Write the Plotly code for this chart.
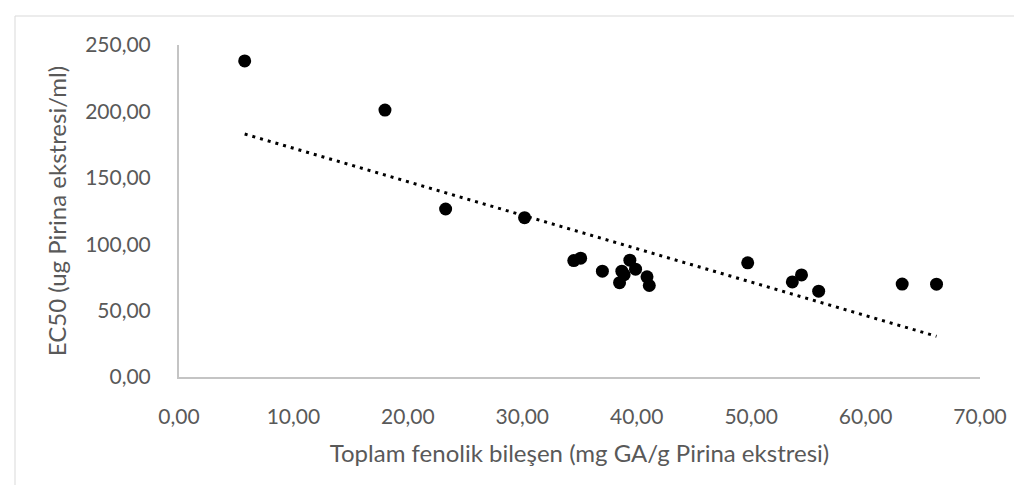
import numpy as np
import plotly.graph_objects as go

# Data
toplam_fenolik = [5.74, 18.0, 23.3, 30.2, 34.5, 35.1, 37.0, 38.7, 38.9, 38.5,
                  39.4, 39.9, 40.9, 41.1, 49.7, 53.6, 54.4, 55.9, 63.2, 66.2]
ec50 = [238.0, 201.0, 126.5, 120.0, 87.7, 89.5, 79.7, 79.7, 77.0, 71.0,
        88.0, 81.2, 75.4, 68.9, 86.0, 71.6, 76.9, 64.6, 70.0, 69.9]

x_title = "Toplam fenolik bileşen (mg GA/g Pirina ekstresi)"
y_title = "EC50 (ug Pirina ekstresi/ml)"

# Linear trendline (least squares), drawn over the data's x range
slope, intercept = np.polyfit(toplam_fenolik, ec50, 1)
tx = [min(toplam_fenolik), max(toplam_fenolik)]
ty = [slope * v + intercept for v in tx]

FONT = "Lato"
TICK_COLOR = "#595959"
AXIS_COLOR = "#c4c4c4"

fig = go.Figure()
fig.add_trace(go.Scatter(
    x=tx, y=ty, mode="lines",
    line=dict(color="black", width=3, dash="3px,5px"),
    showlegend=False, hoverinfo="skip"))
fig.add_trace(go.Scatter(
    x=toplam_fenolik, y=ec50, mode="markers",
    marker=dict(color="black", size=13),
    showlegend=False))

L, R, T, B = 171, 50, 37, 116
W, H = 1022, 485
pw = W - L - R
ph = H - T - B

fig.update_layout(
    width=W, height=H,
    margin=dict(l=L, r=R, t=T, b=B),
    paper_bgcolor="white", plot_bgcolor="white",
    separators=",.",
    font=dict(family=FONT, color=TICK_COLOR),
    xaxis=dict(
        range=[0, 70], dtick=10, tick0=0, tickformat=".2f",
        showgrid=False, zeroline=False,
        showline=True, linecolor=AXIS_COLOR, linewidth=2,
        ticks="", ticklabelstandoff=20,
        tickfont=dict(size=21, color=TICK_COLOR, family=FONT),
        title=dict(text=x_title, font=dict(size=24, color=TICK_COLOR, family=FONT), standoff=18),
    ),
    yaxis=dict(
        range=[0, 250], dtick=50, tick0=0, tickformat=".2f",
        showgrid=False, zeroline=False,
        showline=True, linecolor=AXIS_COLOR, linewidth=2,
        ticks="", ticklabelstandoff=22,
        tickfont=dict(size=21, color=TICK_COLOR, family=FONT),
        title=dict(text=y_title, font=dict(size=24, color=TICK_COLOR, family=FONT), standoff=12),
    ),
    shapes=[dict(
        type="rect", xref="paper", yref="paper",
        x0=(7 - L) / pw, x1=(W + 20 - L) / pw,
        y0=-(H + 20 - (H - B)) / ph, y1=(H - B - 8) / ph,
        line=dict(color="#d9d9d9", width=1), fillcolor="rgba(0,0,0,0)", layer="below")],
)

fig.write_html("out.html")
